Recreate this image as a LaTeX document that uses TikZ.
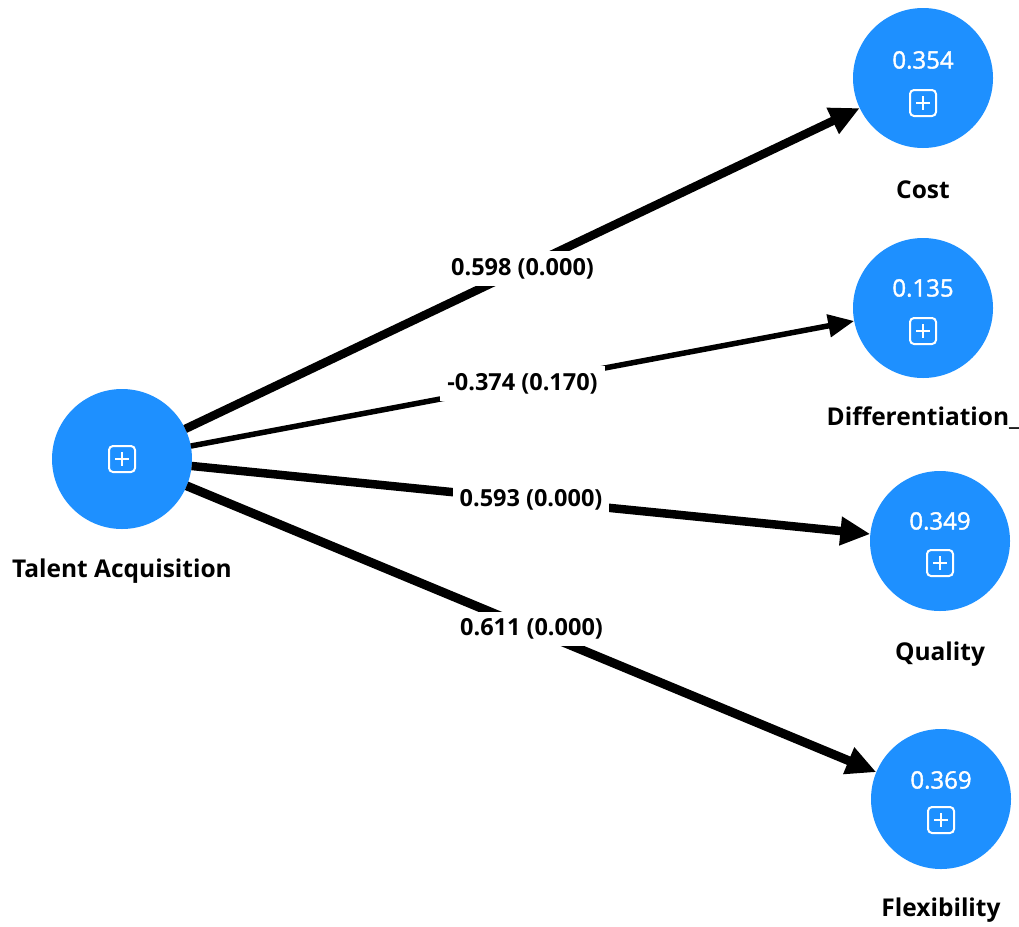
\documentclass[tikz,border=0pt]{standalone}
\usepackage{fontspec}
\setmainfont{Open Sans}
\newfontfamily\valuefont{Open Sans}[FakeBold=1.5]
\usetikzlibrary{arrows.meta,calc}
\definecolor{nodeblue}{RGB}{30,144,255}
\newcommand{\plusicon}[2]{%
  \node[iconbox] (#1) at (#2) {};
  \draw[white,line width=2pt] ($(#1.center)+(-7,0)$) -- ($(#1.center)+(7,0)$);
  \draw[white,line width=2pt] ($(#1.center)+(0,-7)$) -- ($(#1.center)+(0,7)$);
}
\begin{document}
\begin{tikzpicture}[x=1pt,y=-1pt,
  construct/.style={circle,fill=nodeblue,minimum size=140pt,inner sep=0pt,outer sep=0pt},
  valtext/.style={text=white,inner sep=0pt,font=\valuefont\fontsize{24}{28}\selectfont},
  nametext/.style={inner sep=0pt,font=\bfseries\fontsize{24.5}{28}\selectfont},
  coef/.style={fill=white,inner xsep=7pt,inner ysep=7pt,font=\bfseries\fontsize{23.5}{28}\selectfont},
  iconbox/.style={draw=white,line width=2pt,rounded corners=4pt,minimum size=26pt,inner sep=0pt},
  pathline/.style={draw=black,-{Triangle[length=30pt,width=27pt]}},
  thinpath/.style={draw=black,-{Triangle[length=26pt,width=22pt]}},
]
\useasboundingbox (0,0) rectangle (1019,926);

% constructs
\node[construct] (ta) at (122,459) {};
\node[construct] (cost) at (923,78) {};
\node[construct] (diff) at (923,308) {};
\node[construct] (qual) at (940,541) {};
\node[construct] (flex) at (941,799) {};

% values
\node[valtext] (cost-val) at (923,60) {0.354};
\node[valtext] (diff-val) at (923,288) {0.135};
\node[valtext] (qual-val) at (940,521) {0.349};
\node[valtext] (flex-val) at (941,780) {0.369};

% icons
\plusicon{ta-icon}{122,459}
\plusicon{cost-icon}{923,103}
\plusicon{diff-icon}{923,331}
\plusicon{qual-icon}{940,563}
\plusicon{flex-icon}{941,820}

% names
\node[nametext] (ta-name) at (122,571) {Talent Acquisition};
\node[nametext] (cost-name) at (923,190) {Cost};
\node[nametext] (diff-name) at (923,418) {Differentiation\_};
\node[nametext] (qual-name) at (940,654) {Quality};
\node[nametext] (flex-name) at (941,910) {Flexibility};

% paths
\draw[pathline,line width=8.5pt] (ta) -- node[coef] (c1) {0.598 (0.000)} (cost);
\draw[thinpath,line width=5.5pt] (ta) -- node[coef] (c2) {-0.374 (0.170)} (diff);
\draw[pathline,line width=8.5pt] (ta) -- node[coef] (c3) {0.593 (0.000)} (qual);
\draw[pathline,line width=9pt] (ta) -- node[coef] (c4) {0.611 (0.000)} (flex);
\end{tikzpicture}
\end{document}
